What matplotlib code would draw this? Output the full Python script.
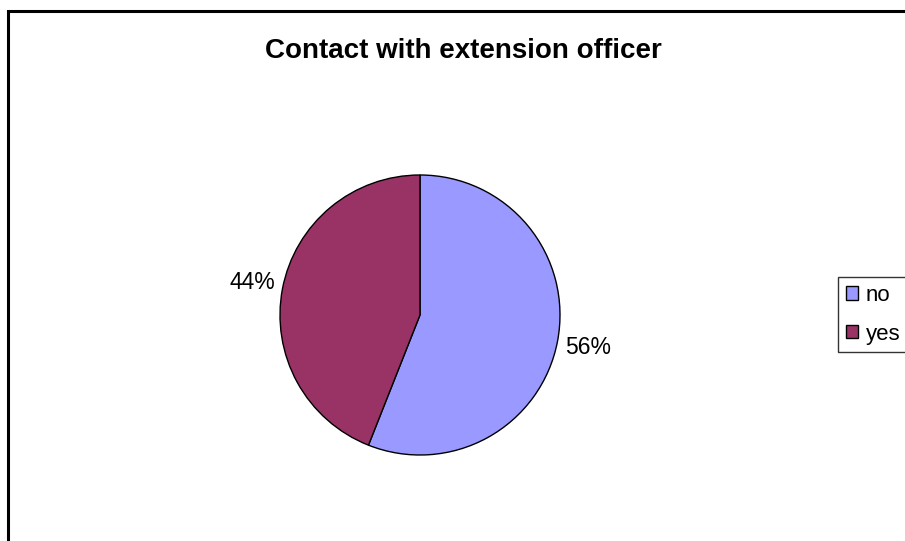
import matplotlib.pyplot as plt
from matplotlib.patches import Rectangle

plt.rcParams['font.family'] = ['Liberation Sans', 'DejaVu Sans']

labels = ['no', 'yes']
shares = [56, 44]
colors = ['#9999FF', '#993366']

W, H = 905, 541
fig = plt.figure(figsize=(W / 100, H / 100), dpi=100)

# outer chart border (runs off right and bottom)
fig.patches.append(Rectangle((8 / W, -0.05), 1.1, 1 - 11 / H + 0.05,
                             transform=fig.transFigure, fill=False,
                             edgecolor='black', linewidth=2.2))

fig.text(463 / W, 1 - 51 / H, 'Contact with extension officer',
         ha='center', va='center', fontsize=20, fontweight='bold')

ax = fig.add_axes([280 / W, 86 / H, 280 / W, 280 / H])
wedges, texts, autotexts = ax.pie(
    shares, colors=colors, startangle=90, counterclock=False,
    autopct='%d%%', pctdistance=1.22,
    wedgeprops=dict(edgecolor='black', linewidth=1))
for t in autotexts:
    t.set_fontsize(16.5)
ax.set_xlim(-1, 1)
ax.set_ylim(-1, 1)
ax.set_aspect('equal')
ax.axis('off')

leg = fig.legend(wedges, labels, loc='upper left',
                 bbox_to_anchor=(838 / W, 1 - 277 / H),
                 fontsize=16, frameon=True, fancybox=False,
                 edgecolor='black', handlelength=0.55, handleheight=0.55,
                 handletextpad=0.35, borderpad=0.35, labelspacing=0.8,
                 borderaxespad=0)
leg.get_frame().set_linewidth(1)

fig.savefig('out.png', dpi=100)
